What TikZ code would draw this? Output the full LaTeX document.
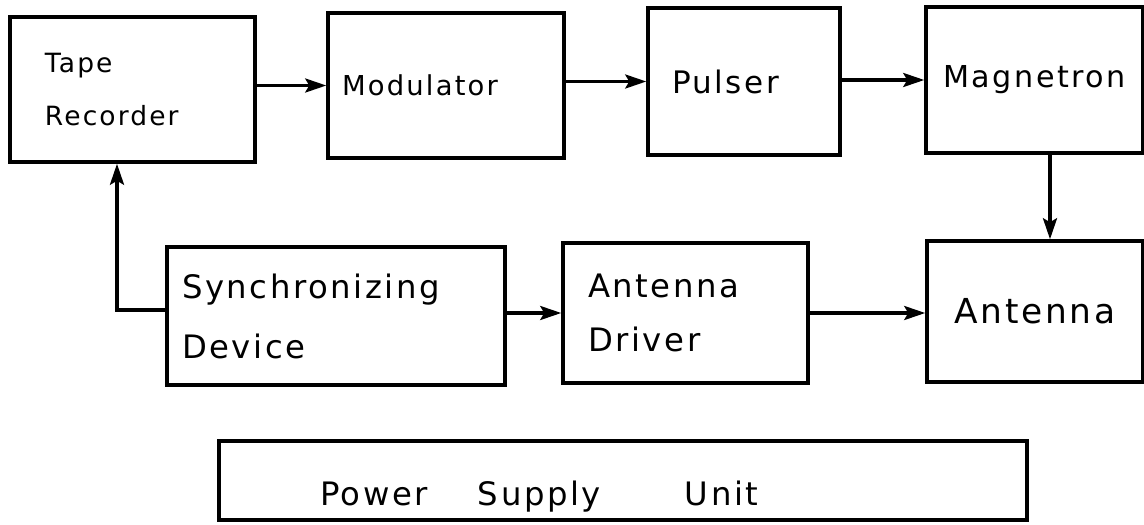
\documentclass[tikz,border=0pt]{standalone}
\usepackage{fontspec}
\usepackage{tikz}
\usetikzlibrary{arrows.meta}
\newfontfamily\handfont[LetterSpace=8]{DejaVu Sans}

\begin{document}
\begin{tikzpicture}[x=1pt,y=-1pt,
  blk/.style={draw, line width=3.5pt, inner ysep=0pt},
  sig/.style={line width=3.2pt, -{Stealth[length=21pt,width=14pt,inset=4pt]}}]
  \useasboundingbox (0,0) rectangle (1144,525);
  % upper chain
  \node[blk, minimum width=245pt, minimum height=145pt, inner xsep=35pt, text width=175pt, align=left,
        font={\handfont\fontsize{26.5}{53}\selectfont}] (tape) at (132.5,89.5) {Tape\\Recorder};
  \node[blk, minimum width=236pt, minimum height=145pt, inner xsep=14pt, text width=208pt, align=left,
        font={\handfont\fontsize{27.4}{33}\selectfont}] (mod) at (446,85.5) {Modulator};
  \node[blk, minimum width=192pt, minimum height=147pt, inner xsep=24pt, text width=144pt, align=left,
        font={\handfont\fontsize{31}{37}\selectfont}] (pulser) at (744,81.5) {Pulser};
  \node[blk, minimum width=217pt, minimum height=146pt,
        font={\handfont\fontsize{30.2}{36}\selectfont}] (mag) at (1034.5,80) {Magnetron};
  % lower chain
  \node[blk, minimum width=338pt, minimum height=138pt, inner xsep=15pt, text width=308pt, align=left,
        font={\handfont\fontsize{32.3}{60}\selectfont}] (sync) at (336,316) {Synchronizing\\Device};
  \node[blk, minimum width=245pt, minimum height=140pt, inner xsep=25pt, text width=195pt, align=left,
        font={\handfont\fontsize{32.3}{54}\selectfont}] (drv) at (685.5,313) {Antenna\\Driver};
  \node[blk, minimum width=216pt, minimum height=141pt,
        font={\handfont\fontsize{34.4}{40}\selectfont}] (ant) at (1035,311.5) {Antenna};
  % supply
  \node[blk, minimum width=808pt, minimum height=79pt, inner xsep=101pt, text width=606pt, align=left,
        text height=58pt, text depth=8pt,
        font={\handfont\fontsize{32.3}{38}\selectfont}] (psu) at (623,480.5)
        {Power\hspace{50pt}Supply\hspace{84pt}Unit};

  \draw[sig] (tape.east |- mod.west) -- (mod.west);
  \draw[sig] (mod.east |- pulser.west) -- (pulser.west);
  \draw[sig] (pulser.east |- mag.west) -- (mag.west);
  \draw[sig] ([xshift=15.5pt]mag.south) -- ([xshift=15.5pt]mag.south |- ant.north);
  \draw[sig] (sync.east |- drv.west) -- (drv.west);
  \draw[sig] (drv.east) -- (drv.east -| ant.west);
  \draw[sig] ([yshift=6pt]sync.west) -| ([xshift=-15.5pt]tape.south);
\end{tikzpicture}
\end{document}
